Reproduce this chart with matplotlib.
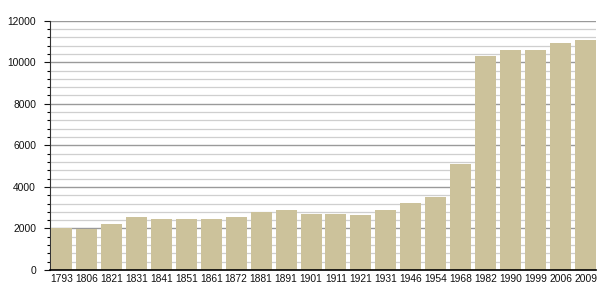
import matplotlib
matplotlib.use("Agg")
import matplotlib.pyplot as plt
from matplotlib.ticker import MultipleLocator

years = ["1793", "1806", "1821", "1831", "1841", "1851", "1861", "1872", "1881", "1891",
         "1901", "1911", "1921", "1931", "1946", "1954", "1968", "1982", "1990", "1999",
         "2006", "2009"]
population = [2040, 1970, 2230, 2550, 2460, 2460, 2450, 2550, 2790, 2890,
              2710, 2710, 2650, 2890, 3230, 3510, 5120, 10310, 10590, 10590,
              10930, 11070]

plt.rcParams['font.family'] = ['Liberation Sans', 'DejaVu Sans']

fig = plt.figure(figsize=(6.05, 3.0), dpi=100)
ax = fig.add_axes([50/605, 30/300, 546/605, (270-20.67)/300])

n = len(years)
w = 0.84
xs = list(range(n))
ax.bar(xs, population, width=w, align='edge', color='#CCC29B', zorder=3, linewidth=0)

ax.set_xlim(-0.04, n - 1 + w)
ax.set_ylim(0, 12000)

ax.yaxis.set_major_locator(MultipleLocator(2000))
ax.yaxis.set_minor_locator(MultipleLocator(400))
ax.grid(which='major', axis='y', color='#9a9a9a', linewidth=1.0, zorder=0)
ax.grid(which='minor', axis='y', color='#cfcfcf', linewidth=0.9, zorder=0)

ax.set_xticks([x + w/2 for x in xs])
ax.set_xticklabels(years)
ax.tick_params(axis='x', length=0, pad=3, labelsize=7.4, colors='#111111')
ax.tick_params(axis='y', which='major', length=4, width=0.8, pad=6, labelsize=7.4, colors='#111111')
ax.tick_params(axis='y', which='minor', length=2, width=0.8)

for s in ['top', 'right']:
    ax.spines[s].set_visible(False)
ax.spines['left'].set_color('#333333')
ax.spines['left'].set_linewidth(0.8)
ax.spines['bottom'].set_color('#000000')
ax.spines['bottom'].set_linewidth(1.2)
ax.spines['bottom'].set_zorder(4)

fig.savefig("out.png", dpi=100)
